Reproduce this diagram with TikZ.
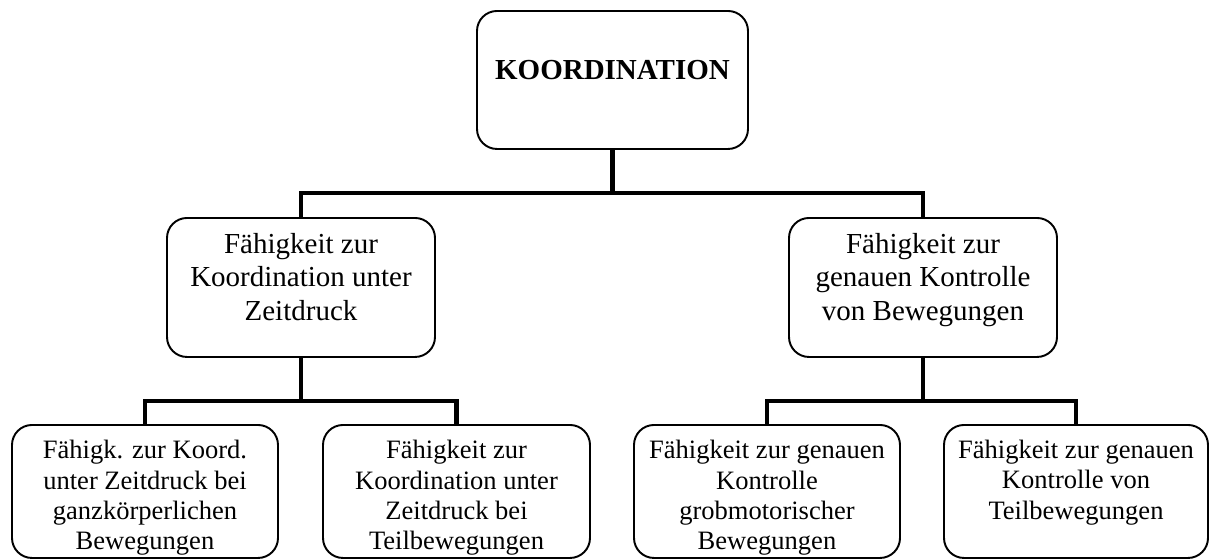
\documentclass[tikz,border=0pt]{standalone}
\usepackage{fontspec}
\setmainfont{Liberation Serif}

\tikzset{
    box/.style={draw, rounded corners=0.4cm, line width=1.1pt, inner sep=0pt, anchor=north},
    conn/.style={line width=2.3pt},
    midfont/.style={align=center, inner sep=0pt, anchor=north, font=\fontsize{16.5}{19}\selectfont},
    lowfont/.style={align=center, inner sep=0pt, anchor=north, font=\fontsize{15.1}{17.2}\selectfont}
}

\begin{document}
\begin{tikzpicture}
    \useasboundingbox (0,0) rectangle (24.18,-11.16);

    % Define the points of the boxes
    \coordinate (T) at (12.25,-0.2);
    \coordinate (ML) at (6.02,-4.34);
    \coordinate (MR) at (18.46,-4.34);
    \coordinate (B1) at (2.90,-8.48);
    \coordinate (B2) at (9.13,-8.48);
    \coordinate (B3) at (15.34,-8.48);
    \coordinate (B4) at (21.52,-8.48);
    \coordinate (bus1) at (0,-3.86);
    \coordinate (bus2) at (0,-8.02);

    % Draw the boxes
    \node[box, minimum width=5.42cm, minimum height=2.76cm] (koord) at (T) {};
    \node[box, minimum width=5.36cm, minimum height=2.78cm] (zeit) at (ML) {};
    \node[box, minimum width=5.36cm, minimum height=2.78cm] (kontr) at (MR) {};
    \node[box, minimum width=5.32cm, minimum height=2.66cm] (zeitganz) at (B1) {};
    \node[box, minimum width=5.34cm, minimum height=2.66cm] (zeitteil) at (B2) {};
    \node[box, minimum width=5.32cm, minimum height=2.66cm] (kontrgrob) at (B3) {};
    \node[box, minimum width=5.28cm, minimum height=2.66cm] (kontrteil) at (B4) {};

    % Place the texts
    \node[midfont, font=\bfseries\fontsize{16.5}{19}\selectfont] (koordtext) at ([yshift=-1cm]koord.north) {KOORDINATION};
    \node[midfont] (zeittext) at ([yshift=-0.32cm]zeit.north) {Fähigkeit zur\\Koordination unter\\Zeitdruck};
    \node[midfont] (kontrtext) at ([yshift=-0.32cm]kontr.north) {Fähigkeit zur\\genauen Kontrolle\\von Bewegungen};
    \node[lowfont] (zeitganztext) at ([yshift=-0.32cm]zeitganz.north) {Fähigk. zur Koord.\\unter Zeitdruck bei\\ganzkörperlichen\\Bewegungen};
    \node[lowfont] (zeitteiltext) at ([yshift=-0.32cm]zeitteil.north) {Fähigkeit zur\\Koordination unter\\Zeitdruck bei\\Teilbewegungen};
    \node[lowfont] (kontrgrobtext) at ([yshift=-0.32cm]kontrgrob.north) {Fähigkeit zur genauen\\Kontrolle\\grobmotorischer\\Bewegungen};
    \node[lowfont] (kontrteiltext) at ([yshift=-0.32cm]kontrteil.north) {Fähigkeit zur genauen\\Kontrolle von\\Teilbewegungen};

    % Draw the connectors
    \draw[conn] (koord.south) -- (koord.south |- bus1);
    \draw[conn] (zeit.north) |- (koord.south |- bus1) -| (kontr.north);
    \draw[conn] (zeit.south) -- (zeit.south |- bus2);
    \draw[conn] (zeitganz.north) |- (zeit.south |- bus2) -| (zeitteil.north);
    \draw[conn] (kontr.south) -- (kontr.south |- bus2);
    \draw[conn] (kontrgrob.north) |- (kontr.south |- bus2) -| (kontrteil.north);

\end{tikzpicture}
\end{document}
